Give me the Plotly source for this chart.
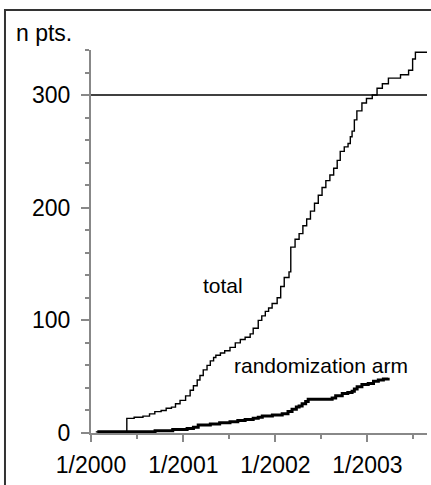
import plotly.graph_objects as go

# ---- data ----
total_dates = [
    "2000-01-20", "2000-05-22", "2000-06-20", "2000-07-25", "2000-08-20", "2000-09-10",
    "2000-10-05", "2000-10-25", "2000-11-15", "2000-12-01", "2000-12-19", "2001-01-10",
    "2001-01-28", "2001-02-10", "2001-02-25", "2001-03-08", "2001-03-21", "2001-04-05",
    "2001-04-18", "2001-05-01", "2001-05-10", "2001-05-28", "2001-06-14", "2001-07-05",
    "2001-07-26", "2001-08-15", "2001-09-03", "2001-09-23", "2001-10-05", "2001-10-25",
    "2001-11-08", "2001-11-22", "2001-12-05", "2001-12-19", "2002-01-08", "2002-01-22",
    "2002-02-05", "2002-02-24", "2002-03-03", "2002-03-20", "2002-04-05", "2002-04-20",
    "2002-05-05", "2002-05-20", "2002-06-05", "2002-06-20", "2002-07-05", "2002-07-20",
    "2002-08-05", "2002-08-20", "2002-09-03", "2002-09-15", "2002-10-01", "2002-10-16",
    "2002-10-25", "2002-11-01", "2002-11-10", "2002-11-20", "2002-12-10", "2002-12-28",
    "2003-01-20", "2003-02-08", "2003-03-01", "2003-03-25", "2003-05-12", "2003-06-13",
    "2003-06-29", "2003-07-10", "2003-08-25",
]
total_counts = [
    1, 13, 14, 15, 17, 19,
    20, 22, 23, 26, 29, 33,
    38, 42, 47, 51, 56, 60,
    64, 67, 69, 71, 73, 76,
    80, 83, 85, 88, 93, 100,
    104, 108, 111, 115, 120, 130,
    138, 143, 165, 172, 177, 184,
    190, 197, 204, 211, 218, 224,
    229, 235, 242, 250, 254, 257,
    263, 268, 278, 286, 293, 297,
    300, 306, 310, 315, 318, 322,
    332, 338, 338,
]

rand_dates = [
    "2000-01-26", "2000-09-11", "2000-11-20", "2001-01-16", "2001-02-10", "2001-03-01",
    "2001-04-18", "2001-05-25", "2001-07-05", "2001-08-05", "2001-09-03", "2001-10-05",
    "2001-10-25", "2001-11-10", "2001-12-20", "2002-01-28", "2002-02-20", "2002-03-08",
    "2002-03-25", "2002-04-05", "2002-04-17", "2002-05-01", "2002-05-11", "2002-08-14",
    "2002-08-28", "2002-09-23", "2002-10-15", "2002-11-01", "2002-11-10", "2002-11-21",
    "2002-12-10", "2003-01-04", "2003-01-25", "2003-02-13", "2003-03-05", "2003-03-24",
]
rand_counts = [
    1, 2, 3, 4, 5, 7,
    8, 9, 10, 11, 12, 13,
    14, 15, 16, 17, 19, 21,
    23, 24, 26, 28, 30, 31,
    33, 35, 36, 37, 39, 41,
    43, 44, 46, 47, 48, 49,
]

x_tick_vals = ["2000-01-01", "2001-01-01", "2002-01-01", "2003-01-01"]
x_tick_text = ["1/2000", "1/2001", "1/2002", "1/2003"]
x_minor_vals = ["2000-07-02", "2001-07-02", "2002-07-02", "2003-07-02"]
y_tick_vals = [0, 100, 200, 300]
target_line = 300

FONT = "Arial, Liberation Sans, sans-serif"

fig = go.Figure()
fig.add_trace(go.Scatter(x=total_dates, y=total_counts, mode="lines",
                         line=dict(shape="hv", color="black", width=1.4),
                         showlegend=False, hoverinfo="skip"))
fig.add_trace(go.Scatter(x=rand_dates, y=rand_counts, mode="lines",
                         line=dict(shape="hv", color="black", width=3),
                         showlegend=False, hoverinfo="skip"))

# reference line at 300
fig.add_shape(type="line", xref="paper", yref="y", x0=0, x1=1,
              y0=target_line, y1=target_line, line=dict(color="black", width=1.4))

# outer frame (open to the right and bottom, as in the picture)
fig.add_shape(type="rect", xref="paper", yref="paper",
              x0=-0.256, x1=1.05, y0=-0.17, y1=1.1044,
              line=dict(color="#333333", width=2), layer="above")

fig.add_annotation(text="n pts.", xref="paper", yref="paper",
                   x=-0.229, y=1.045, xanchor="left", yanchor="middle",
                   showarrow=False, font=dict(family=FONT, size=23, color="black"))
fig.add_annotation(text="total", x="2001-06-08", y=131, showarrow=False,
                   xanchor="center", yanchor="middle",
                   font=dict(family=FONT, size=21, color="black"))
fig.add_annotation(text="randomization arm", x="2002-07-01", y=60, showarrow=False,
                   xanchor="center", yanchor="middle",
                   font=dict(family=FONT, size=21, color="black"))

fig.update_layout(
    width=431, height=485,
    margin=dict(l=91, r=4, t=50, b=52),
    paper_bgcolor="white", plot_bgcolor="white",
    font=dict(family=FONT, size=23, color="black"),
    showlegend=False,
)
fig.update_xaxes(
    type="date", range=["2000-01-01", "2003-08-25"],
    tickmode="array", tickvals=x_tick_vals, ticktext=x_tick_text,
    ticks="outside", ticklen=7, tickwidth=1.5, tickcolor="#888888",
    showline=True, linecolor="#888888", linewidth=2,
    showgrid=False, zeroline=False, ticklabelstandoff=3,
    tickfont=dict(family=FONT, size=23, color="black"),
    minor=dict(tickvals=x_minor_vals, ticks="outside", ticklen=4,
               tickwidth=1.5, tickcolor="#888888", showgrid=False),
)
fig.update_yaxes(
    range=[0, 340], tickmode="array", tickvals=y_tick_vals,
    ticks="outside", ticklen=8, tickwidth=1.5, tickcolor="#888888",
    showline=True, linecolor="#888888", linewidth=2,
    showgrid=False, zeroline=False, ticklabelstandoff=6,
    tickfont=dict(family=FONT, size=23, color="black"),
    minor=dict(dtick=20, tick0=0, ticks="outside", ticklen=4,
               tickwidth=1.5, tickcolor="#888888", showgrid=False),
)

fig.write_html("out.html")
